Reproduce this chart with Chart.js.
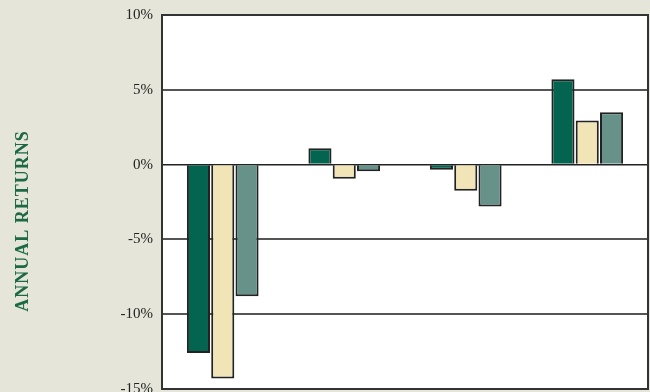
<!DOCTYPE html>
<html>
<head>
<meta charset="utf-8">
<script src="https://cdn.jsdelivr.net/npm/chart.js@4/dist/chart.umd.min.js"></script>
<style>
  html, body { margin: 0; padding: 0; background: #e5e5da; overflow: hidden; }
  #wrap { width: 650px; height: 420px; position: relative; top: -3px; }
</style>
</head>
<body>
<div id="wrap"><canvas id="returnsChart"></canvas></div>
<script>
// categories are not readable in the picture (axis labels cut off)
var categories = ['Period 1', 'Period 2', 'Period 3', 'Period 4'];
var series1 = [-12.6, 1.1, -0.35, 5.7];
var series2 = [-14.3, -0.95, -1.75, 2.95];
var series3 = [-8.8, -0.45, -2.8, 3.5];
var yTicks = [-15, -10, -5, 0, 5, 10];

var plotBg = {
    id: 'plotBg',
    beforeDraw: function(chart) {
        var a = chart.chartArea, ctx = chart.ctx;
        ctx.save();
        ctx.fillStyle = '#ffffff';
        ctx.fillRect(a.left, a.top, a.right - a.left, a.bottom - a.top);
        ctx.restore();
    },
    afterDraw: function(chart) {
        var a = chart.chartArea, ctx = chart.ctx;
        ctx.save();
        ctx.strokeStyle = '#333333';
        ctx.lineWidth = 2;
        ctx.strokeRect(a.left, a.top, a.right - a.left, a.bottom - a.top);
        // y axis title
        ctx.translate(23.5, 224);
        ctx.rotate(-Math.PI / 2);
        ctx.fillStyle = '#1b6a45';
        ctx.font = 'bold 18px "Liberation Serif", serif';
        ctx.letterSpacing = '1px';
        ctx.textAlign = 'center';
        ctx.textBaseline = 'middle';
        ctx.fillText('ANNUAL RETURNS', 0, 0);
        ctx.restore();
    }
};

const data = {
    labels: categories,
    datasets: [{
        label: 'Series 1',
        backgroundColor: '#03644f',
        borderColor: '#222222',
        borderWidth: 2,
        data: series1
    },
    {
        label: 'Series 2',
        backgroundColor: '#f1e4b6',
        borderColor: '#222222',
        borderWidth: 2,
        data: series2
    },
    {
        label: 'Series 3',
        backgroundColor: '#66928a',
        borderColor: '#222222',
        borderWidth: 2,
        data: series3
    }]
}

const config = {
    type: 'bar',
    data: data,
    plugins: [plotBg],
    options: {
        responsive: true,
        maintainAspectRatio: false,
        animation: false,
        categoryPercentage: 0.6,
        barPercentage: 0.95,
        layout: {
            padding: { top: 11, right: 2, bottom: 28, left: 0 }
        },
        plugins: {
            legend: { display: false },
            title: { display: false },
            tooltip: { enabled: false }
        },
        scales: {
            x: {
                display: false
            },
            y: {
                min: -15,
                max: 10,
                afterFit: function(scale) { scale.width = 162; },
                afterBuildTicks: function(scale) {
                    scale.ticks = yTicks.map(function(v) { return { value: v }; });
                },
                border: { display: false },
                grid: {
                    drawTicks: false,
                    color: function(ctx) { return ctx.tick && ctx.tick.value === 0 ? '#222222' : '#555555'; },
                    lineWidth: function(ctx) { return ctx.tick && ctx.tick.value === 0 ? 1.5 : 2; }
                },
                ticks: {
                    padding: 9,
                    color: '#222222',
                    font: { family: '"Liberation Serif", serif', size: 15 },
                    callback: function(v) { return v + '%'; }
                }
            }
        }
    }
}

var chart = new Chart('returnsChart', config)
</script>
</body>
</html>
